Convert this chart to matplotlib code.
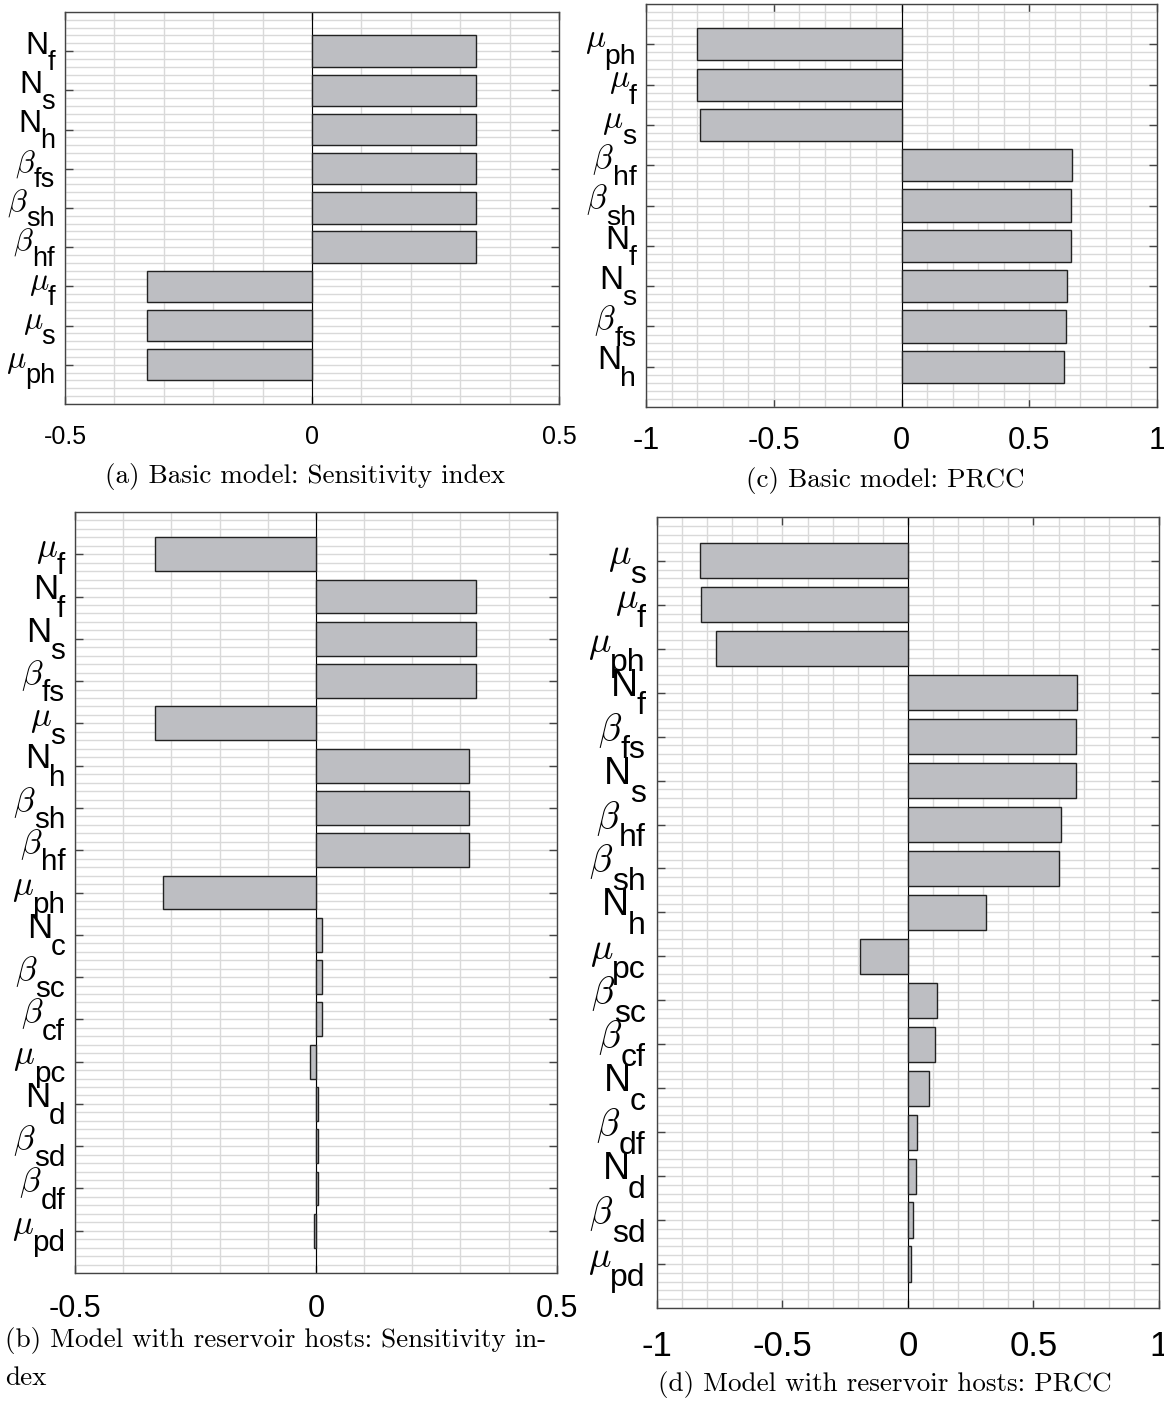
import matplotlib
matplotlib.use("Agg")
import matplotlib.pyplot as plt
import numpy as np
from matplotlib import transforms
from matplotlib.ticker import FormatStrFormatter

plt.rcParams["font.family"] = "Liberation Sans"
plt.rcParams["axes.unicode_minus"] = False

# (a) basic model, sensitivity index (top to bottom)
si_basic_params = ["N_f", "N_s", "N_h", "beta_fs", "beta_sh", "beta_hf", "mu_f", "mu_s", "mu_ph"]
si_basic = [0.333, 0.333, 0.333, 0.333, 0.333, 0.333, -0.333, -0.333, -0.333]

# (c) basic model, PRCC
prcc_basic_params = ["mu_ph", "mu_f", "mu_s", "beta_hf", "beta_sh", "N_f", "N_s", "beta_fs", "N_h"]
prcc_basic = [-0.802, -0.802, -0.789, 0.666, 0.663, 0.662, 0.648, 0.643, 0.636]

# (b) reservoir hosts, sensitivity index
si_res_params = ["mu_f", "N_f", "N_s", "beta_fs", "mu_s", "N_h", "beta_sh", "beta_hf", "mu_ph",
                 "N_c", "beta_sc", "beta_cf", "mu_pc", "N_d", "beta_sd", "beta_df", "mu_pd"]
si_res = [-0.333, 0.333, 0.333, 0.333, -0.333, 0.317, 0.317, 0.317, -0.317,
          0.013, 0.013, 0.013, -0.012, 0.005, 0.005, 0.005, -0.004]

# (d) reservoir hosts, PRCC
prcc_res_params = ["mu_s", "mu_f", "mu_ph", "N_f", "beta_fs", "N_s", "beta_hf", "beta_sh", "N_h",
                   "mu_pc", "beta_sc", "beta_cf", "N_c", "beta_df", "N_d", "beta_sd", "mu_pd"]
prcc_res = [-0.827, -0.823, -0.765, 0.672, 0.671, 0.668, 0.608, 0.601, 0.311,
            -0.193, 0.116, 0.107, 0.083, 0.034, 0.032, 0.019, 0.012]

SYMBOLS = {"N": ("N", None), "beta": (r"$\beta$", "cm"), "mu": (r"$\mu$", "cm")}
BAR_COLOR = "#bdbec2"
GRID_COLOR = "#d9d9d9"
FRAME_COLOR = "#444444"


def param_label(ax, y, name, size, dx):
    sym, sub = name.split("_")
    # subscript sits well below the main symbol, like MATLAB's tex labels
    off = transforms.offset_copy(ax.get_yaxis_transform(), fig=ax.figure,
                                 x=-dx, y=-0.58 * size, units="points")
    t = ax.text(0, y, sub, transform=off, ha="right", va="baseline",
                fontsize=0.85 * size, clip_on=False)
    text, mfam = SYMBOLS[sym]
    kw = {"math_fontfamily": mfam} if mfam else {}
    ax.annotate(text, xy=(0, y), xycoords=(t, ax.transData),
                xytext=(1.0, -0.08 * size), textcoords="offset points",
                ha="right", va="baseline", fontsize=size,
                annotation_clip=False, **kw)


def panel(fig, rect, params, values, xlim, major, label_size, tick_size, tick_pad, dx):
    ax = fig.add_axes(rect)
    n = len(params)
    ypos = np.arange(n, 0, -1)
    ax.barh(ypos, values, height=0.8, color=BAR_COLOR, edgecolor="#222222",
            linewidth=1, zorder=3)
    ax.axvline(0, color="k", lw=0.8, zorder=2.5)
    ax.set_xlim(*xlim)
    ax.set_ylim(0, n + 1)

    ax.set_xticks(major)
    ax.xaxis.set_major_formatter(FormatStrFormatter("%g"))
    ax.set_xticks(np.arange(xlim[0], xlim[1] + 1e-9, 0.1), minor=True)
    ax.set_yticks(ypos)
    ax.set_yticklabels([])
    ax.set_yticks(np.arange(0, n + 1 + 1e-9, 0.2), minor=True)
    ax.grid(which="both", color=GRID_COLOR, lw=1, zorder=0)
    ax.set_axisbelow(True)
    ax.tick_params(which="major", direction="in", top=True, right=True,
                   length=6, width=1, color=FRAME_COLOR,
                   labelsize=tick_size, pad=tick_pad)
    ax.tick_params(which="minor", length=0)
    for s in ax.spines.values():
        s.set_color(FRAME_COLOR)
        s.set_linewidth(1)

    for y, name in zip(ypos, params):
        param_label(ax, y, name, label_size, dx)
    return ax


fig = plt.figure(figsize=(11.64, 14.07), dpi=100)

panel(fig, [0.0558, 0.7129, 0.4244, 0.2786], si_basic_params, si_basic,
      (-0.5, 0.5), [-0.5, 0, 0.5], 23, 18, 15, 7)
panel(fig, [0.555, 0.7107, 0.439, 0.2864], prcc_basic_params, prcc_basic,
      (-1, 1), [-1, -0.5, 0, 0.5, 1], 24, 22, 14, 7)
panel(fig, [0.0644, 0.0952, 0.414, 0.5409], si_res_params, si_res,
      (-0.5, 0.5), [-0.5, 0, 0.5], 25, 22, 15, 7)
panel(fig, [0.5644, 0.0704, 0.4313, 0.5622], prcc_res_params, prcc_res,
      (-1, 1), [-1, -0.5, 0, 0.5, 1], 27, 25, 16, 8)

cap = dict(fontfamily="cmr10", fontsize=19.5, va="center")
fig.text(305 / 1164, 1 - 476 / 1407, "(a) Basic model: Sensitivity index", ha="center", **cap)
fig.text(885 / 1164, 1 - 481 / 1407, "(c) Basic model: PRCC", ha="center", **cap)
fig.text(5 / 1164, 1 - 1340 / 1407, "(b) Model with reservoir hosts: Sensitivity in-", ha="left", **cap)
fig.text(5 / 1164, 1 - 1378 / 1407, "dex", ha="left", **cap)
fig.text(885 / 1164, 1 - 1385 / 1407, "(d) Model with reservoir hosts: PRCC", ha="center", **cap)

fig.savefig("out.png", dpi=100)
